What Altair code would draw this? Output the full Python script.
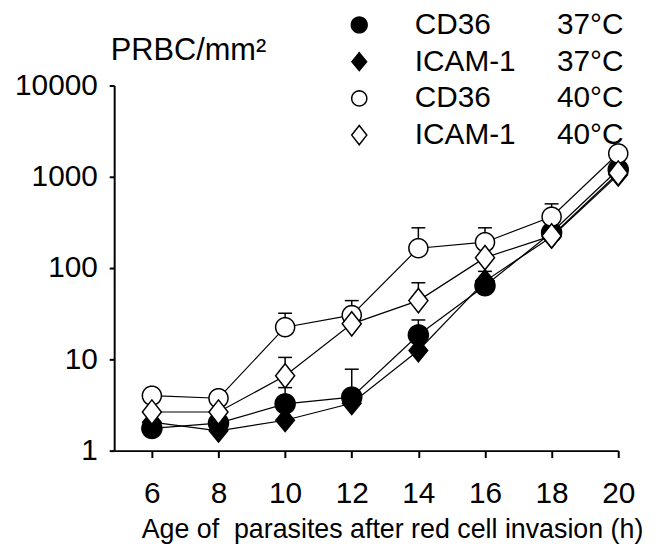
import math
import altair as alt
import pandas as pd

# ---- data ----
hours = [6, 8, 10, 12, 14, 16, 18, 20]
series_names = ["CD36", "ICAM-1", "CD36", "ICAM-1"]
series_temps = ["37°C", "37°C", "40°C", "40°C"]
name_pad = {"CD36": 8, "ICAM-1": 5}  # non-breaking spaces to align temp column

cd36_37 = [1.75, 2.0, 3.25, 3.85, 18.5, 64, 245, 1200]
icam_37 = [2.05, 1.65, 2.15, 3.3, 12.5, 72, 220, 1050]
cd36_40 = [4.0, 3.75, 22.5, 30.5, 165, 192, 365, 1800]
icam_40 = [2.65, 2.65, 6.6, 24.5, 44, 130, 225, 1100]

# upper ends of the (one-sided) error bars; None = no bar visible
cd36_37_up = [None, None, 4.9, 7.8, 27, 92, None, None]
icam_37_up = [None, None, None, None, None, None, None, None]
cd36_40_up = [None, None, 32, 44, 276, 276, 505, None]
icam_40_up = [None, None, 10.5, None, 69, None, None, 1550]

y_ticks = [1, 10, 100, 1000, 10000]
x_ticks = [6, 8, 10, 12, 14, 16, 18, 20]

# ---- build tables ----
NBSP = "\u00a0"
labels = [n + NBSP * name_pad[n] + t for n, t in zip(series_names, series_temps)]
values = [cd36_37, icam_37, cd36_40, icam_40]
uppers = [cd36_37_up, icam_37_up, cd36_40_up, icam_40_up]

draw_order = [1, 0, 2, 3]  # filled first, open markers on top
rows, err_rows = [], []
for i in draw_order:
    for h, v, u in zip(hours, values[i], uppers[i]):
        rows.append({"h": h, "v": v, "s": labels[i], "o": draw_order.index(i)})
        if u is not None:
            err_rows.append({"h": h, "v": v, "u": u, "s": labels[i]})
df = pd.DataFrame(rows)
edf = pd.DataFrame(err_rows)

FONT = "Liberation Sans"


def circle_path(r, n=40):
    pts = []
    for k in range(n):
        a = 2 * math.pi * k / n
        pts.append(f"{r * math.cos(a):.4f},{r * math.sin(a):.4f}")
    return "M" + "L".join(pts) + "Z"


circle_f = circle_path(0.84)
circle_o = circle_path(0.80)
diamond_f = "M0,-0.95L0.78,0L0,0.95L-0.78,0Z"
diamond_o = "M0,-1.02L0.8,0L0,1.02L-0.8,0Z"

xscale = alt.Scale(domain=[4.868, 20], nice=False, zero=False)
yscale = alt.Scale(type="log", domain=[1, 10000], nice=False)

xenc = alt.X(
    "h:Q",
    scale=xscale,
    axis=alt.Axis(
        values=x_ticks,
        title="Age of" + NBSP + " parasites after red cell invasion (h)",
        titleFont=FONT,
        titleFontSize=27,
        titleFontWeight="normal",
        titleColor="black",
        titleX=280,
        titleY=88,
        titleAlign="center",
        titleBaseline="alphabetic",
        labelFont=FONT,
        labelFontSize=30,
        labelColor="black",
        labelPadding=21,
        labelBaseline="top",
        tickSize=7,
        tickWidth=2,
        tickColor="black",
        domainColor="black",
        domainWidth=2,
        grid=False,
        labelFlush=False,
        labelOverlap=False,
    ),
)
yenc = alt.Y(
    "v:Q",
    scale=yscale,
    axis=alt.Axis(
        values=y_ticks,
        format="d",
        title="PRBC/mm²",
        titleFont=FONT,
        titleFontSize=31,
        titleFontWeight="normal",
        titleColor="black",
        titleAngle=0,
        titleX=-4,
        titleY=-26,
        titleAlign="left",
        titleBaseline="alphabetic",
        labelFont=FONT,
        labelFontSize=30,
        labelColor="black",
        labelPadding=12,
        tickSize=5,
        tickWidth=2,
        tickColor="black",
        domainColor="black",
        domainWidth=2,
        grid=False,
        labelFlush=False,
        labelOverlap=False,
    ),
)

legend = alt.Legend(
    orient="none",
    legendX=232,
    legendY=-76,
    title=None,
    labelFont=FONT,
    labelFontSize=30,
    labelColor="black",
    labelLimit=500,
    labelOffset=41,
    rowPadding=7,
    padding=0,
    symbolSize=360,
    symbolStrokeColor="black",
    symbolStrokeWidth=1.5,
)

lines = alt.Chart(df).mark_line(color="black", strokeWidth=1.2).encode(
    x=xenc, y=yenc, detail="s:N"
)

err_v = alt.Chart(edf).mark_rule(color="black", strokeWidth=1.5).encode(
    x=alt.X("h:Q", scale=xscale), y=alt.Y("v:Q", scale=yscale), y2="u:Q"
)
err_cap = alt.Chart(edf).mark_rule(
    color="black", strokeWidth=1.5, xOffset=-7, x2Offset=7
).encode(x=alt.X("h:Q", scale=xscale), x2="h:Q", y=alt.Y("u:Q", scale=yscale))

points = alt.Chart(df).mark_point(
    filled=True, strokeWidth=1.5, size=576, opacity=1
).encode(
    x=alt.X("h:Q", scale=xscale),
    y=alt.Y("v:Q", scale=yscale),
    shape=alt.Shape(
        "s:N",
        scale=alt.Scale(domain=labels, range=[circle_f, diamond_f, circle_o, diamond_o]),
        legend=legend,
    ),
    fill=alt.Fill(
        "s:N",
        scale=alt.Scale(domain=labels, range=["black", "black", "white", "white"]),
        legend=legend,
    ),
    stroke=alt.Stroke(
        "s:N",
        scale=alt.Scale(domain=labels, range=["black", "black", "black", "black"]),
        legend=legend,
    ),
    order="o:Q",
)

chart = (
    alt.layer(lines, err_v, err_cap, points)
    .properties(
        width=508,
        height=368,
        autosize=alt.AutoSizeParams(type="none"),
        padding={"left": 107, "top": 76, "right": 30, "bottom": 92},
        background="white",
    )
    .configure_view(stroke=None)
)

chart.save("out.html", embed_options={"renderer": "svg", "actions": False})
